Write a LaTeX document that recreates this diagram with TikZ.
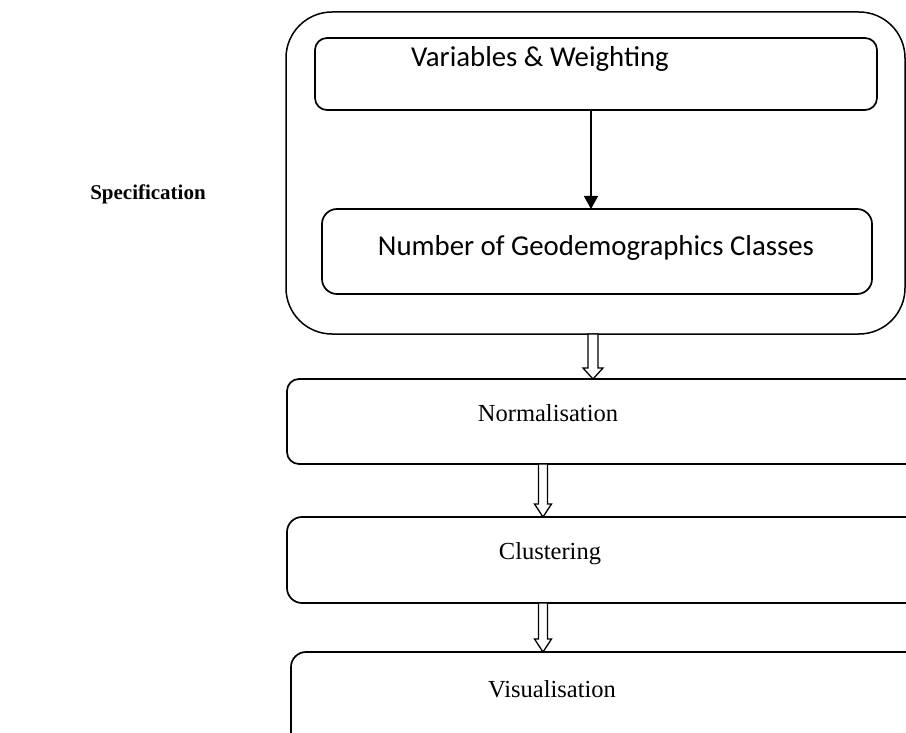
\documentclass[tikz,border=0pt]{standalone}
\usepackage{fontspec}
\setmainfont{Liberation Serif}
\newfontfamily\calib{Carlito}
\usetikzlibrary{arrows.meta,calc}
\newcommand\hollowarr[6]{% from, to, x-coordinate name, shaft half, head half, head length
  \draw[hollow] let \p1=(#1 -| #3), \p2=(#2 -| #3) in
    (\x1-#4,\y1) -- (\x1+#4,\y1) -- (\x1+#4,\y2+#6) -- (\x1+#5,\y2+#6) -- (\x2,\y2)
    -- (\x1-#5,\y2+#6) -- (\x1-#4,\y2+#6) -- cycle;}
\begin{document}
\begin{tikzpicture}[x=1pt,y=-1pt,
  rbox/.style={draw, line width=1.7pt, inner sep=0pt, outer sep=0pt, anchor=north west},
  sanslab/.style={inner sep=0pt, anchor=base, font=\calib\fontsize{28.8}{34}\selectfont},
  seriflab/.style={inner sep=0pt, anchor=base, font=\fontsize{24.5}{29}\selectfont},
  hollow/.style={draw, line width=1.3pt, fill=white, line join=miter},
  solidarrow/.style={line width=1.4pt, -{Triangle[width=14pt,length=13pt]}}]
\useasboundingbox (0,0) rectangle (906,733);
\clip (0,0) rectangle (906,733);
\fill[white] (0,0) rectangle (906,733);

% boxes
\node[rbox, rounded corners=46pt, line width=1.5pt, minimum width=619pt, minimum height=322pt] (outer) at (286,12) {};
\node[rbox, rounded corners=12pt, minimum width=562pt, minimum height=72pt] (var) at (315,38) {};
\node[rbox, rounded corners=15pt, minimum width=550pt, minimum height=85pt] (num) at (322,209) {};
\node[rbox, rounded corners=12pt, minimum width=660pt, minimum height=85pt] (norm) at (287,379) {};
\node[rbox, rounded corners=15pt, minimum width=660pt, minimum height=86pt] (clus) at (287,517) {};
\node[rbox, rounded corners=15pt, minimum width=660pt, minimum height=95pt] (vis) at (291,652) {};

% labels
\node[sanslab] (varT) at (540,67) {Variables \& Weighting};
\node[sanslab] (numT) at (596,255) {Number of Geodemographics Classes};
\node[seriflab] (normT) at (548,421) {Normalisation};
\node[seriflab] (clusT) at (550,559) {Clustering};
\node[seriflab] (visT) at (552,697) {Visualisation};
\node[inner sep=0pt, anchor=base, font=\bfseries\fontsize{21}{25}\selectfont] (specT) at (148,200) {Specification};

% connectors
\coordinate (ax) at (591,0);
\draw[solidarrow] (var.south -| ax) -- (num.north -| ax);
\coordinate (h1) at (593,0);
\coordinate (h2) at (543,0);
\hollowarr{outer.south}{norm.north}{h1}{5pt}{10pt}{11pt}
\hollowarr{norm.south}{clus.north}{h2}{4.5pt}{8.5pt}{13pt}
\hollowarr{clus.south}{vis.north}{h2}{4.5pt}{8.5pt}{13pt}
\end{tikzpicture}
\end{document}
